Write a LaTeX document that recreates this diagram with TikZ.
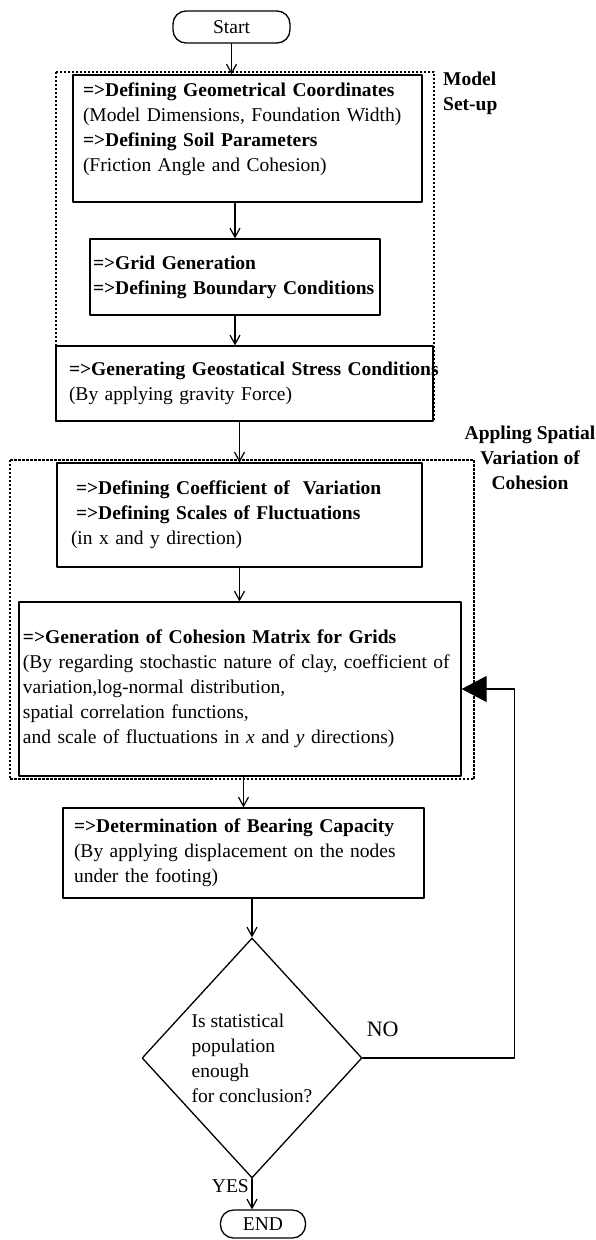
\documentclass[tikz,border=0pt]{standalone}
\usepackage{fontspec}
\setmainfont{Liberation Serif}
\usetikzlibrary{shapes.geometric,arrows.meta,positioning}
\newcommand\flowfont{\fontsize{19.5}{25}\selectfont}

\begin{document}
\begin{tikzpicture}[x=1pt,y=-1pt,line cap=round,line join=round,
  stepbox/.style={draw,line width=1.3pt,rectangle,align=left,inner ysep=2pt,font=\flowfont},
  termbox/.style={draw,line width=1.3pt,rectangle,rounded corners=13pt,font=\flowfont},
  testbox/.style={draw,line width=1.3pt,diamond,aspect=0.92,inner sep=0pt,align=left,font=\flowfont},
  groupframe/.style={line width=2pt,line cap=butt,dash pattern=on 2.2pt off 1.8pt},
  flow/.style={line width=1.2pt,-{Straight Barb[length=9pt,width=10pt]}},
  backflow/.style={line width=1.2pt,-{Triangle[length=25pt,width=26pt]}},
  sidelabel/.style={font=\flowfont\bfseries,inner sep=0pt}]
  \useasboundingbox (0,0) rectangle (596,1240);
  % dashed groups
  \draw[groupframe] (56,72) rectangle (434,421);
  \draw[groupframe] (9.5,460) rectangle (474,779);
  % steps
  \node[termbox,minimum width=117pt,minimum height=32pt] (start) at (231.5,27) {Start};
  \node[stepbox,text width=329pt,inner xsep=10pt,minimum height=127pt] (setup) at (247.5,138.5)
    {\textbf{=>Defining Geometrical Coordinates}\\(Model Dimensions, Foundation Width)\\
     \textbf{=>Defining Soil Parameters}\\(Friction Angle and Cohesion)\\[-2pt]\mbox{}};
  \node[stepbox,font=\flowfont\bfseries,text width=284pt,inner xsep=3pt,minimum height=76pt] (grid) at (235,277)
    {=>Grid Generation\\=>Defining Boundary Conditions};
  \node[stepbox,text width=351pt,inner xsep=13pt,minimum height=75pt] (stress) at (244.5,383.5)
    {\textbf{\mbox{=>Generating Geostatical Stress Conditions}}\\(By applying gravity Force)};
  \node[stepbox,text width=337pt,inner xsep=14pt,minimum height=104pt] (cov) at (239.5,515)
    {\hspace*{5pt}\textbf{=>Defining Coefficient of\ \ Variation}\\
     \hspace*{5pt}\textbf{=>Defining Scales of Fluctuations}\\(in x and y direction)};
  \node[stepbox,text width=434pt,inner xsep=4pt,minimum height=174pt] (cohmat) at (240,689)
    {\textbf{=>Generation of Cohesion Matrix for Grids}\\
     (By regarding stochastic nature of clay, coefficient of\\
     variation,log-normal distribution,\\spatial correlation functions,\\
     and scale of fluctuations in \textit{x} and \textit{y} directions)};
  \node[stepbox,text width=339pt,inner xsep=11pt,minimum height=90pt] (bearing) at (243.5,853)
    {\textbf{=>Determination of Bearing Capacity}\\(By applying displacement on the nodes\\under the footing)};
  \node[testbox,minimum width=220pt,minimum height=240pt] (check) at (252,1058)
    {Is statistical\\population\\enough\\for conclusion?};
  \node[termbox,minimum width=85pt,minimum height=28pt] (stop) at (263,1224) {END};
  % group labels
  \node[sidelabel,align=left,anchor=north west] (setuplbl) at (443,72) {Model\\Set-up};
  \node[sidelabel,align=center,anchor=north] (spatiallbl) at (530,426) {Appling Spatial\\Variation of\\Cohesion};
  % connectors
  \draw[flow] (start) -- (start |- setup.north);
  \draw[flow] (setup.south -| grid) -- (grid);
  \draw[flow] (grid) -- (grid |- stress.north);
  \draw[flow] (stress.south -| cov) -- (cov);
  \draw[flow] (cov) -- (cov |- cohmat.north);
  \draw[flow] (cohmat.south -| bearing) -- (bearing);
  \draw[flow] (bearing.south -| check) -- (check);
  \draw[flow] (check) -- (check |- stop.north);
  \draw[backflow] (check.east) -- ++(152,0) |- (cohmat.east);
  \node[font=\fontsize{22}{26}\selectfont,inner sep=0pt,above right=21pt and 4pt of check.east] (no) {NO};
  \node[font=\flowfont,inner sep=0pt,below left=1pt and 3pt of check.south] (yes) {YES};
\end{tikzpicture}
\end{document}
